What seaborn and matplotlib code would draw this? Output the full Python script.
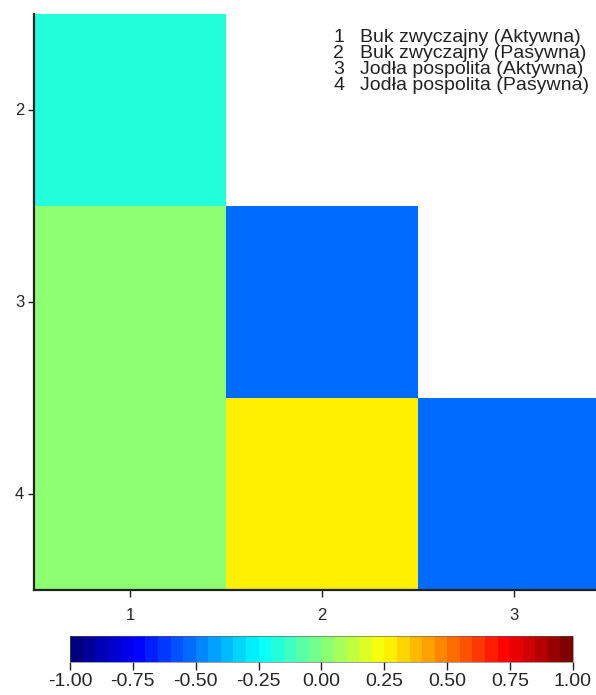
import numpy as np
import pandas as pd
import matplotlib
matplotlib.use('Agg')
import matplotlib.pyplot as plt
from matplotlib.colors import LinearSegmentedColormap
import seaborn as sns

# Correlation values (lower triangle only)
row_labels = ['2', '3', '4']
col_labels = ['1', '2', '3']
row_2 = [-0.19, np.nan, np.nan]
row_3 = [0.02, -0.53, np.nan]
row_4 = [0.02, 0.26, -0.53]

legend_numbers = ['1', '2', '3', '4']
legend_names = ['Buk zwyczajny (Aktywna)', 'Buk zwyczajny (Pasywna)',
                'Jodła pospolita (Aktywna)', 'Jodła pospolita (Pasywna)']

cbar_ticks = [-1.0, -0.75, -0.5, -0.25, 0.0, 0.25, 0.5, 0.75, 1.0]

sns.set_style('white')
plt.rcParams['font.family'] = ['Liberation Sans', 'DejaVu Sans']
plt.rcParams['axes.unicode_minus'] = False

# jet-like colormap in 40 discrete steps
jet = LinearSegmentedColormap.from_list(
    'jet40',
    [(0.0, '#00007F'), (0.125, '#0000FF'), (0.375, '#00FFFF'),
     (0.5, '#80FF80'), (0.625, '#FFFF00'), (0.875, '#FF0000'), (1.0, '#7F0000')],
    N=40)

df = pd.DataFrame([row_2, row_3, row_4], index=row_labels, columns=col_labels)

fig = plt.figure(figsize=(5.96, 6.95), dpi=100)
ax = fig.add_axes([0.057, 0.151, 0.9664, 0.8288])
cax = fig.add_axes([0.1174, 0.0475, 0.844, 0.0374])

sns.heatmap(df, ax=ax, cmap=jet, vmin=-1, vmax=1, cbar_ax=cax,
            cbar_kws={'orientation': 'horizontal', 'ticks': cbar_ticks,
                      'format': '%.2f'})

# axes styling
for side in ['top', 'right']:
    ax.spines[side].set_visible(False)
for side in ['left', 'bottom']:
    ax.spines[side].set_visible(True)
    ax.spines[side].set_color('#222222')
    ax.spines[side].set_linewidth(1.6)
ax.set_xlabel('')
ax.set_ylabel('')
ax.tick_params(axis='y', left=True, direction='out', length=4, width=1,
               color='#222222', labelsize=12, pad=3, labelrotation=0)
ax.tick_params(axis='x', bottom=True, direction='out', length=5, width=1,
               color='#222222', labelsize=12, pad=8, labelrotation=0)

# colorbar styling
cbar = ax.collections[0].colorbar
cbar.outline.set_linewidth(0.4)
cbar.outline.set_edgecolor('#555555')
cax.tick_params(axis='x', direction='out', length=6, width=1,
                color='#222222', labelsize=14, pad=2)

# legend of the numbered groups
for i, (num, name) in enumerate(zip(legend_numbers, legend_names)):
    y = 1 - (38 + 16 * i) / 695
    fig.text(0.559, y, num, ha='left', va='center', fontsize=14, color='#222222')
    fig.text(0.604, y, name, ha='left', va='center', fontsize=14, color='#222222')

fig.savefig('out.png', dpi=100)
